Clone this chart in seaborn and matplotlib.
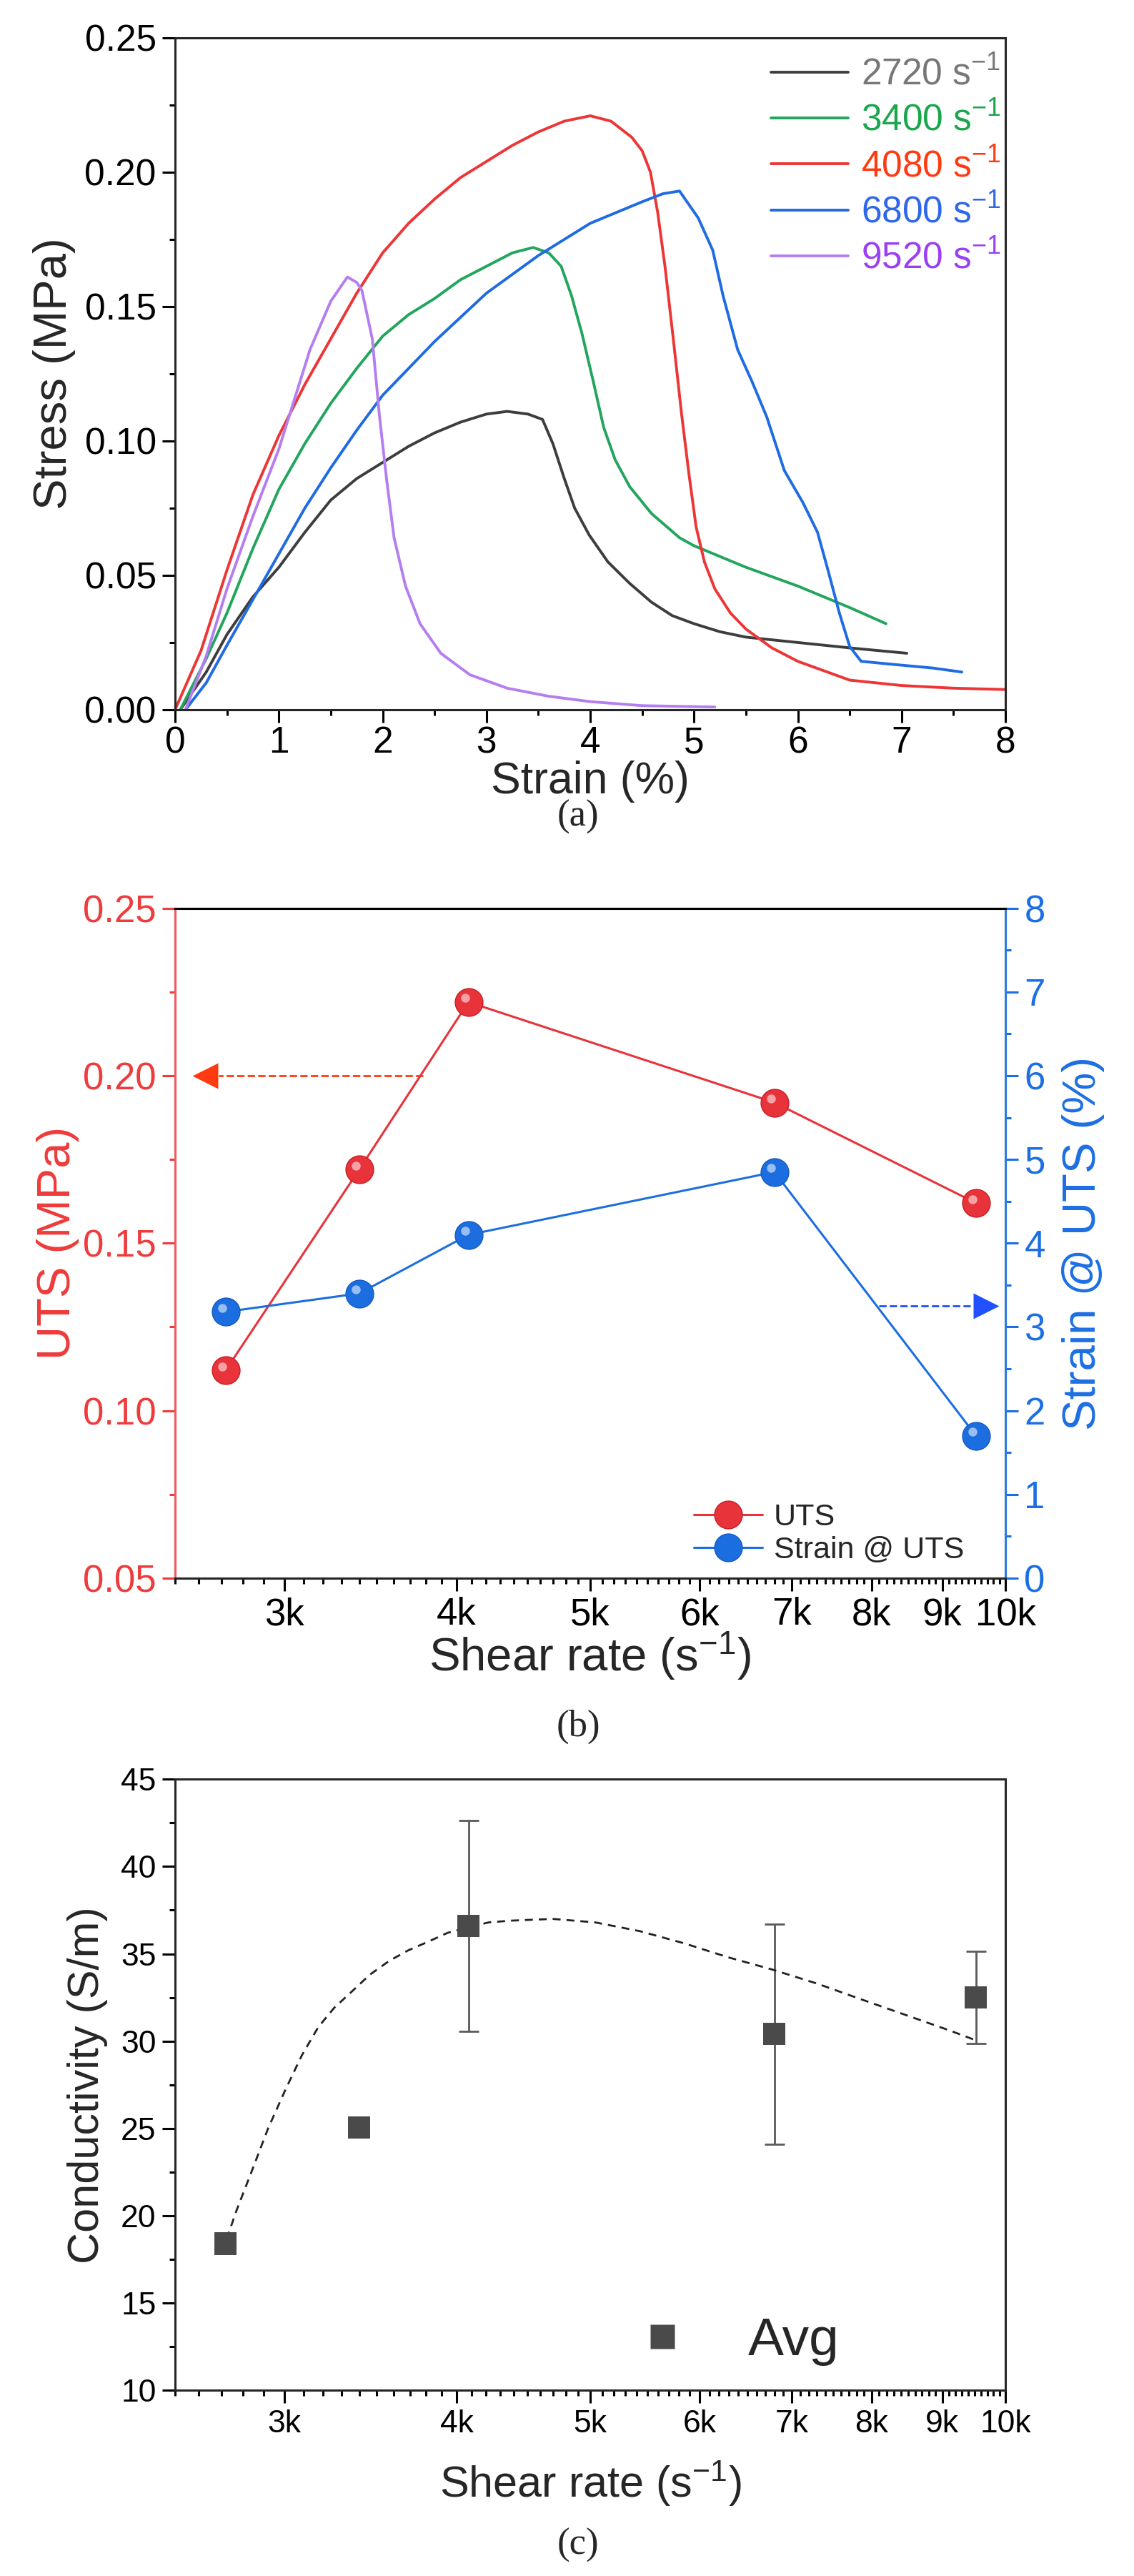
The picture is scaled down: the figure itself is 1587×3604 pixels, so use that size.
import numpy as np
import pandas as pd
import matplotlib
matplotlib.use('Agg')
import matplotlib.pyplot as plt
import matplotlib.transforms as mtransforms
from matplotlib.lines import Line2D
from matplotlib.ticker import MultipleLocator, FixedLocator, NullFormatter
import seaborn as sns

# ---------------- data ----------------
# (a) stress-strain curves
rates = ['2720', '3400', '4080', '6800', '9520']

strain_2720 = [0.05, 0.3, 0.5, 0.75, 1.0, 1.25, 1.5, 1.75, 2.0, 2.25, 2.5, 2.75, 3.0, 3.2, 3.4,
               3.54, 3.64, 3.75, 3.85, 3.99, 4.17, 4.38, 4.59, 4.79, 5.0, 5.25, 5.5, 6.0, 6.5, 7.05]
stress_2720 = [0.0, 0.014, 0.028, 0.042, 0.053, 0.066, 0.078, 0.086, 0.092, 0.098, 0.103, 0.107, 0.110, 0.111, 0.110,
               0.108, 0.099, 0.086, 0.075, 0.065, 0.055, 0.047, 0.040, 0.035, 0.032, 0.029, 0.027, 0.025, 0.023, 0.021]

strain_3400 = [0.05, 0.3, 0.5, 0.75, 1.0, 1.25, 1.5, 1.75, 2.0, 2.25, 2.5, 2.75, 3.0, 3.25, 3.45,
               3.6, 3.72, 3.82, 3.92, 4.03, 4.13, 4.24, 4.38, 4.59, 4.86, 5.0, 5.5, 6.0, 6.5, 6.85]
stress_3400 = [0.0, 0.019, 0.036, 0.060, 0.082, 0.099, 0.114, 0.127, 0.139, 0.147, 0.153, 0.160, 0.165, 0.170, 0.172,
               0.170, 0.165, 0.154, 0.140, 0.122, 0.105, 0.093, 0.083, 0.073, 0.064, 0.061, 0.053, 0.046, 0.038, 0.032]

strain_4080 = [0.0, 0.25, 0.5, 0.75, 1.0, 1.25, 1.5, 1.75, 2.0, 2.25, 2.5, 2.75, 3.0, 3.25, 3.5, 3.75,
               4.0, 4.2, 4.4, 4.5, 4.58, 4.65, 4.72, 4.8, 4.88, 4.95, 5.02, 5.1, 5.2, 5.35, 5.5, 5.75,
               6.0, 6.5, 7.0, 7.5, 8.0]
stress_4080 = [0.0, 0.022, 0.052, 0.080, 0.102, 0.121, 0.138, 0.155, 0.170, 0.181, 0.190, 0.198, 0.204, 0.210, 0.215, 0.219,
               0.221, 0.219, 0.213, 0.208, 0.200, 0.185, 0.165, 0.138, 0.110, 0.088, 0.068, 0.055, 0.045, 0.036, 0.030, 0.023,
               0.018, 0.011, 0.009, 0.008, 0.0075]

strain_6800 = [0.1, 0.3, 0.5, 0.75, 1.0, 1.25, 1.5, 1.75, 2.0, 2.25, 2.5, 2.75, 3.0, 3.25, 3.5, 3.75,
               4.0, 4.25, 4.5, 4.7, 4.86, 5.04, 5.18, 5.28, 5.42, 5.56, 5.7, 5.87, 6.05, 6.19, 6.29,
               6.4, 6.5, 6.61, 6.88, 7.3, 7.58]
stress_6800 = [0.0, 0.010, 0.024, 0.041, 0.058, 0.075, 0.090, 0.104, 0.117, 0.127, 0.137, 0.146, 0.155, 0.162, 0.169, 0.175,
               0.181, 0.185, 0.189, 0.192, 0.193, 0.183, 0.171, 0.154, 0.134, 0.122, 0.109, 0.089, 0.077, 0.066, 0.052,
               0.036, 0.0235, 0.018, 0.017, 0.0155, 0.014]

strain_9520 = [0.1, 0.3, 0.5, 0.75, 1.0, 1.3, 1.5, 1.66, 1.75, 1.8, 1.9, 1.97, 2.04, 2.11, 2.22,
               2.36, 2.56, 2.84, 3.2, 3.6, 4.0, 4.5, 5.2]
stress_9520 = [0.0, 0.020, 0.045, 0.072, 0.097, 0.134, 0.152, 0.161, 0.159, 0.156, 0.138, 0.109, 0.085, 0.064, 0.046,
               0.032, 0.021, 0.013, 0.008, 0.005, 0.003, 0.0015, 0.001]

# (b) UTS and strain at UTS vs shear rate
shear_rate = [2720, 3400, 4080, 6800, 9520]
uts = [0.112, 0.172, 0.222, 0.192, 0.162]
strain_at_uts = [3.18, 3.40, 4.10, 4.85, 1.70]

# (c) conductivity
conductivity = [18.4, 25.05, 36.6, 30.4, 32.5]
conductivity_err = [0.0, 0.0, 6.05, 6.3, 2.65]
fit_rate = [2704, 2770, 2843, 2920, 3005, 3090, 3175, 3260, 3354, 3460, 3575, 3690, 3816, 3940, 4070,
            4220, 4378, 4697, 5042, 5431, 5850, 6296, 6775, 7299, 7856, 8464, 9118, 9552]
fit_cond = [17.9, 20.3, 22.6, 25.0, 27.2, 29.2, 30.8, 31.9, 32.8, 33.8, 34.6, 35.2, 35.7, 36.2, 36.5,
            36.8, 36.9, 37.0, 36.8, 36.3, 35.6, 34.8, 34.1, 33.3, 32.4, 31.5, 30.6, 30.0]

rate_ticks = [3000, 4000, 5000, 6000, 7000, 8000, 9000, 10000]
rate_ticklabels = ['3k', '4k', '5k', '6k', '7k', '8k', '9k', '10k']

# ---------------- style ----------------
sns.set_theme(style='ticks')
plt.rcParams['font.family'] = ['Liberation Sans', 'DejaVu Sans']
plt.rcParams['mathtext.default'] = 'regular'
plt.rcParams['axes.linewidth'] = 2.2

line_colors = ['#3d3d3d', '#22a55c', '#ee3535', '#1f6be3', '#b57ef0']
text_colors = ['#777777', '#1aa64c', '#ff3a12', '#2f67ea', '#9a40f2']
RED = '#e8333a'
BLUE = '#1c6ee0'

fig = plt.figure(figsize=(15.87, 36.04), dpi=100)
L, W = 0.1544, 0.7322
ax_a = fig.add_axes([L, 0.7245, W, 0.2608])
ax_b = fig.add_axes([L, 0.3874, W, 0.2600])
ax_c = fig.add_axes([L, 0.0721, W, 0.2372])


def style_ticks(ax, size, color='black', axis='both', pad=6):
    ax.tick_params(axis=axis, which='major', direction='out', length=13, width=2.2,
                   labelsize=size, colors=color, pad=pad)
    ax.tick_params(axis=axis, which='minor', direction='out', length=6, width=2.2, colors=color)


# ---------------- (a) ----------------
frames = []
for r, sx, sy in zip(rates, [strain_2720, strain_3400, strain_4080, strain_6800, strain_9520],
                     [stress_2720, stress_3400, stress_4080, stress_6800, stress_9520]):
    frames.append(pd.DataFrame({'strain': sx, 'stress': sy, 'rate': r}))
df_a = pd.concat(frames, ignore_index=True)

sns.lineplot(data=df_a, x='strain', y='stress', hue='rate', palette=line_colors,
             estimator=None, sort=False, lw=2.8, ax=ax_a, legend=False)
ax_a.set_xlim(0, 8)
ax_a.set_ylim(0, 0.25)
ax_a.xaxis.set_major_locator(MultipleLocator(1))
ax_a.xaxis.set_minor_locator(MultipleLocator(0.5))
ax_a.yaxis.set_major_locator(MultipleLocator(0.05))
ax_a.yaxis.set_minor_locator(MultipleLocator(0.025))
ax_a.yaxis.set_major_formatter(plt.FormatStrFormatter('%.2f'))
style_ticks(ax_a, 37, axis='y')
style_ticks(ax_a, 37, axis='x', pad=3)
ax_a.set_xlabel('Strain (%)', fontsize=45)
ax_a.set_ylabel('Stress (MPa)', fontsize=47)
ax_a.yaxis.set_label_coords(-0.12, 0.5)
ax_a.xaxis.set_label_coords(0.5, -0.076)

handles = [Line2D([], [], color=c, lw=2.8) for c in line_colors]
labels = [f'{r} s$^{{-1}}$' for r in rates]
leg = ax_a.legend(handles, labels, loc='upper right', bbox_to_anchor=(0.995, 0.972),
                  frameon=False, fontsize=37, handlelength=2.1, handletextpad=0.35,
                  labelspacing=0.27, borderpad=0, borderaxespad=0)
for t, c in zip(leg.get_texts(), text_colors):
    t.set_color(c)

# ---------------- (b) ----------------
ax_b2 = ax_b.twinx()
ax_b2.set_position(ax_b.get_position())
sns.lineplot(x=shear_rate, y=uts, ax=ax_b, color=RED, lw=2.2, marker='o', markersize=28,
             markerfacecolor=RED, markeredgecolor='#c81e25', markeredgewidth=1, zorder=4)
sns.lineplot(x=shear_rate, y=strain_at_uts, ax=ax_b2, color=BLUE, lw=2.2, marker='o', markersize=28,
             markerfacecolor=BLUE, markeredgecolor='#1459c0', markeredgewidth=1, zorder=4)
# sphere highlights
hl_b = mtransforms.offset_copy(ax_b.transData, fig=fig, x=-3.5, y=4, units='points')
hl_b2 = mtransforms.offset_copy(ax_b2.transData, fig=fig, x=-3.5, y=4, units='points')
ax_b.plot(shear_rate, uts, ls='none', marker='o', markersize=9, color='white', alpha=0.55,
          mec='none', transform=hl_b, zorder=5)
ax_b2.plot(shear_rate, strain_at_uts, ls='none', marker='o', markersize=9, color='white', alpha=0.55,
           mec='none', transform=hl_b2, zorder=5)

for ax in (ax_b, ax_c):
    ax.set_xscale('log')
    ax.set_xlim(2500, 10000)
    ax.xaxis.set_major_locator(FixedLocator(rate_ticks))
    ax.xaxis.set_major_formatter(plt.FixedFormatter(rate_ticklabels))
    ax.xaxis.set_minor_locator(FixedLocator([v for v in range(2500, 10001, 100) if v not in rate_ticks]))
    ax.xaxis.set_minor_formatter(NullFormatter())

ax_b.set_ylim(0.05, 0.25)
ax_b.yaxis.set_major_locator(MultipleLocator(0.05))
ax_b.yaxis.set_minor_locator(MultipleLocator(0.025))
ax_b.yaxis.set_major_formatter(plt.FormatStrFormatter('%.2f'))
ax_b2.set_ylim(0, 8)
ax_b2.yaxis.set_major_locator(MultipleLocator(1))
ax_b2.yaxis.set_minor_locator(MultipleLocator(0.5))

style_ticks(ax_b, 38, 'black', 'x')
style_ticks(ax_b, 38, '#ee3b3b', 'y')
style_ticks(ax_b2, 38, '#1c6fe3', 'y')
ax_b.spines['left'].set_color('#ef5a5f')
ax_b.spines['right'].set_visible(False)
ax_b2.spines['left'].set_visible(False)
ax_b2.spines['right'].set_color('#2a7ae2')
ax_b2.spines['top'].set_color('black')

ax_b.set_xlabel('Shear rate (s$^{-1}$)', fontsize=47)
ax_b.set_ylabel('UTS (MPa)', fontsize=47, color='#ee3b3b')
ax_b2.set_ylabel('Strain @ UTS (%)', fontsize=47, color='#1c6fe3')
ax_b.yaxis.set_label_coords(-0.115, 0.5)
ax_b.xaxis.set_label_coords(0.5, -0.078)
ax_b2.yaxis.set_label_coords(1.068, 0.5)

# guide arrows
ax_b.plot([3780, 2690], [0.20, 0.20], ls='--', color='#ff3a10', lw=2)
ax_b.plot([2628], [0.20], marker='<', markersize=26, color='#ff3a10', mec='none')
ax_b2.plot([8100, 9480], [3.25, 3.25], ls='--', color='#2050ff', lw=2)
ax_b2.plot([9680], [3.25], marker='>', markersize=26, color='#2050ff', mec='none')

hb = [Line2D([], [], color=RED, lw=2.2, marker='o', markersize=28, mfc=RED, mec='#c81e25'),
      Line2D([], [], color=BLUE, lw=2.2, marker='o', markersize=28, mfc=BLUE, mec='#1459c0')]
ax_b2.legend(hb, ['UTS', 'Strain @ UTS'], loc='lower right', bbox_to_anchor=(0.95, 0.02),
             frameon=False, fontsize=31, handlelength=2.25, handletextpad=0.35,
             labelspacing=0.15, borderpad=0, borderaxespad=0)

# ---------------- (c) ----------------
GREY = '#4a4a4a'
ax_c.errorbar(shear_rate, conductivity, yerr=conductivity_err, fmt='none', ecolor='#5a5a5a',
              elinewidth=2, capsize=10, capthick=2, zorder=2)
sns.lineplot(x=fit_rate, y=fit_cond, ax=ax_c, color='#222222', lw=2, ls=(0, (4, 3)), zorder=3)
sns.scatterplot(x=shear_rate, y=conductivity, ax=ax_c, marker='s', s=500, color=GREY,
                edgecolor='none', zorder=4)
ax_c.set_ylim(10, 45)
ax_c.yaxis.set_major_locator(MultipleLocator(5))
ax_c.yaxis.set_minor_locator(MultipleLocator(2.5))
style_ticks(ax_c, 32)
ax_c.set_xlabel('Shear rate (s$^{-1}$)', fontsize=44)
ax_c.set_ylabel('Conductivity (S/m)', fontsize=44)
ax_c.yaxis.set_label_coords(-0.081, 0.5)
ax_c.xaxis.set_label_coords(0.5, -0.112)
hc = [Line2D([], [], ls='none', marker='s', markersize=24, color=GREY, mec='none')]
ax_c.legend(hc, ['Avg'], loc='lower right', bbox_to_anchor=(0.8, 0.04), frameon=False,
            fontsize=54, handlelength=1.4, handletextpad=0.9, borderpad=0, borderaxespad=0)

# captions
for y, lab in zip([0.6828, 0.3296, 0.0119], ['(a)', '(b)', '(c)']):
    fig.text(0.51, y, lab, ha='center', va='center', fontsize=38, family='Liberation Serif')

fig.savefig('out.png', dpi=100)
